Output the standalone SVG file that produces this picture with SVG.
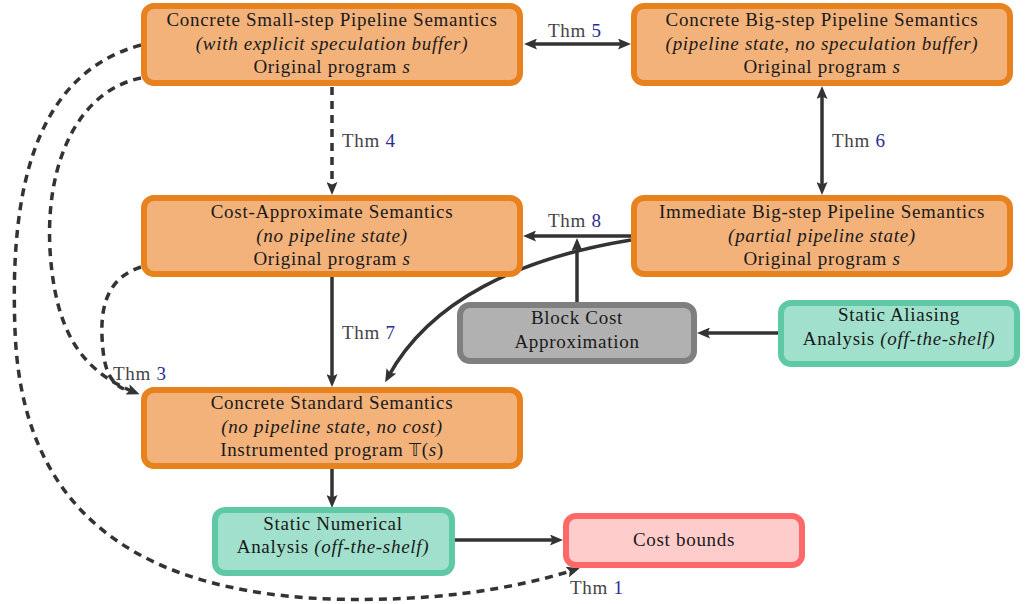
<svg xmlns="http://www.w3.org/2000/svg" width="1027" height="604" viewBox="0 0 1027 604">
<defs>
<marker id="ah" viewBox="0 0 13 11" markerUnits="userSpaceOnUse" markerWidth="13" markerHeight="11" refX="7" refY="5.5" orient="auto-start-reverse">
<path d="M0,0 L13,5.5 L0,11 L2.5,5.5 z" fill="#333"/>
</marker>
</defs>
<style>
text{font-family:"Liberation Serif","Times New Roman",serif;font-size:19px;letter-spacing:0.7px;fill:#1a1a1a;text-anchor:middle}
.it{font-style:italic}
.orange{fill:#F2B27A;stroke:#E8821E;stroke-width:6}
.gray{fill:#B1B1B1;stroke:#7F7F7F;stroke-width:6}
.green{fill:#A1E0CC;stroke:#5FC9A6;stroke-width:6}
.pink{fill:#FFCCCC;stroke:#FF6868;stroke-width:6}
.c{fill:none;stroke:#333;stroke-width:3.5}
.d{stroke-dasharray:8 6}
.thm{text-anchor:start;fill:#444}
.n{fill:#2B2B95}
</style>
<g id="connectors">
<path class="c" d="M530,44 L625,44" marker-start="url(#ah)" marker-end="url(#ah)"/>
<path class="c d" d="M332,87 L332,189" marker-end="url(#ah)"/>
<path class="c" d="M822,92 L822,189" marker-start="url(#ah)" marker-end="url(#ah)"/>
<path class="c" d="M631,236 L529,236" marker-end="url(#ah)"/>
<path class="c" d="M577,303 L577,244" marker-end="url(#ah)"/>
<path class="c" d="M631,240 C520,258 430,300 388,377" marker-end="url(#ah)"/>
<path class="c" d="M332,277 L332,381" marker-end="url(#ah)"/>
<path class="c" d="M778,333 L703,333" marker-end="url(#ah)"/>
<path class="c" d="M332,469 L332,502" marker-end="url(#ah)"/>
<path class="c" d="M455,540 L557,540" marker-end="url(#ah)"/>
<path class="c d" d="M141,45 C30,75 10,200 15,330 C20,470 90,590 330,599 C430,602 510,590 574,570" marker-end="url(#ah)"/>
<path class="c d" d="M141,78 C80,90 45,160 50,250 C55,330 80,370 134,392" marker-end="url(#ah)"/>
<path class="c d" d="M141,267 C100,280 100,320 103,350 C105,372 112,384 124,389"/>
<text class="thm" x="548" y="37">Thm <tspan class="n">5</tspan></text>
<text class="thm" x="342" y="147">Thm <tspan class="n">4</tspan></text>
<text class="thm" x="832" y="147">Thm <tspan class="n">6</tspan></text>
<text class="thm" x="548" y="227">Thm <tspan class="n">8</tspan></text>
<text class="thm" x="342" y="339">Thm <tspan class="n">7</tspan></text>
<text class="thm" x="113" y="380">Thm <tspan class="n">3</tspan></text>
<text class="thm" x="570" y="594">Thm <tspan class="n">1</tspan></text>
</g>
<g id="small-step">
<rect class="orange" x="144" y="6" width="376" height="77" rx="10"/>
<text x="332" y="26">Concrete Small-step Pipeline Semantics</text>
<text x="332" y="50" class="it">(with explicit speculation buffer)</text>
<text x="332" y="73">Original program <tspan class="it">s</tspan></text>
</g>
<g id="big-step">
<rect class="orange" x="634" y="6" width="376" height="77" rx="10"/>
<text x="822" y="26">Concrete Big-step Pipeline Semantics</text>
<text x="822" y="50" class="it">(pipeline state, no speculation buffer)</text>
<text x="822" y="73">Original program <tspan class="it">s</tspan></text>
</g>
<g id="cost-approx">
<rect class="orange" x="144" y="198" width="376" height="76" rx="10"/>
<text x="332" y="218">Cost-Approximate Semantics</text>
<text x="332" y="242" class="it">(no pipeline state)</text>
<text x="332" y="265">Original program <tspan class="it">s</tspan></text>
</g>
<g id="immediate">
<rect class="orange" x="634" y="198" width="376" height="76" rx="10"/>
<text x="822" y="218">Immediate Big-step Pipeline Semantics</text>
<text x="822" y="242" class="it">(partial pipeline state)</text>
<text x="822" y="265">Original program <tspan class="it">s</tspan></text>
</g>
<g id="block-cost">
<rect class="gray" x="460" y="305" width="234" height="56" rx="10"/>
<text x="577" y="324">Block Cost</text>
<text x="577" y="348">Approximation</text>
</g>
<g id="aliasing">
<rect class="green" x="781" y="303" width="236" height="61" rx="10"/>
<text x="899" y="321">Static Aliasing</text>
<text x="899" y="345">Analysis <tspan class="it">(off-the-shelf)</tspan></text>
</g>
<g id="standard">
<rect class="orange" x="144" y="390" width="376" height="76" rx="10"/>
<text x="332" y="409">Concrete Standard Semantics</text>
<text x="332" y="433" class="it">(no pipeline state, no cost)</text>
<text x="332" y="456">Instrumented program <tspan font-family="DejaVu Sans, sans-serif" font-size="17px">𝕋</tspan>(<tspan class="it">s</tspan>)</text>
</g>
<g id="numerical">
<rect class="green" x="215" y="510" width="237" height="63" rx="10"/>
<text x="333" y="530">Static Numerical</text>
<text x="333" y="553">Analysis <tspan class="it">(off-the-shelf)</tspan></text>
</g>
<g id="cost-bounds">
<rect class="pink" x="566" y="516" width="236" height="49" rx="10"/>
<text x="684" y="546">Cost bounds</text>
</g>
</svg>
